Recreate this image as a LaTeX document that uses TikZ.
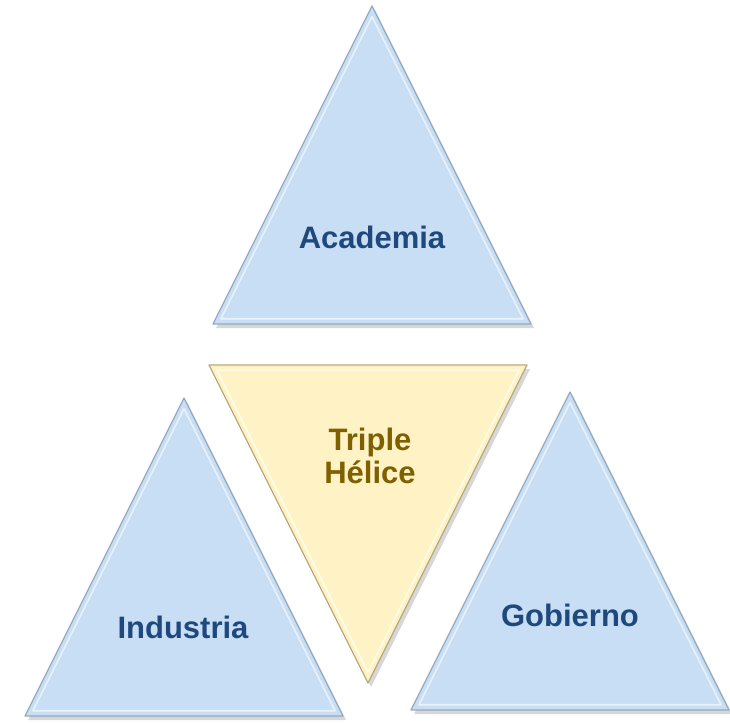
\documentclass[tikz,border=0pt]{standalone}
\usepackage{fontspec}
\setmainfont{Liberation Sans}
\definecolor{triblue}{HTML}{C8DEF5}
\definecolor{blueedge}{HTML}{93AAC0}
\definecolor{bluebevel}{HTML}{EAF3FC}
\definecolor{triyellow}{HTML}{FFF3C6}
\definecolor{yellowedge}{HTML}{B8AA80}
\definecolor{yellowbevel}{HTML}{FFFBEA}
\definecolor{bluetext}{HTML}{1F497D}
\definecolor{olivetext}{HTML}{7F6000}
\newcommand\triup{(0,-212) -- (159,106) -- (-159,106) -- cycle}
\newcommand\tridown{(0,212) -- (159,-106) -- (-159,-106) -- cycle}
\begin{document}
\begin{tikzpicture}[x=1pt,y=-1pt,thick,line join=round,
    shadowtri/.style={fill=black!45,opacity=0.35,draw=none},
    bluetri/.style={fill=triblue,draw=blueedge,line width=1.2pt},
    yellowtri/.style={fill=triyellow,draw=yellowedge,line width=1.2pt},
    bluebev/.style={draw=bluebevel,line width=1.6pt,scale=0.95},
    yellowbev/.style={draw=yellowbevel,line width=1.6pt,scale=0.95},
    lbl/.style={font=\fontsize{31}{33}\selectfont\bfseries,align=center}]
    \useasboundingbox (0,0) rectangle (730,722);

    % Academia
    \begin{scope}[shift={(372,218)}]
        \fill[shadowtri,shift={(3,4)}] \triup;
        \draw[bluetri] \triup;
        \draw[bluebev] \triup;
    \end{scope}

    % Industria
    \begin{scope}[shift={(184,610)}]
        \fill[shadowtri,shift={(3,4)}] \triup;
        \draw[bluetri] \triup;
        \draw[bluebev] \triup;
    \end{scope}

    % Gobierno
    \begin{scope}[shift={(570,604)}]
        \fill[shadowtri,shift={(3,4)}] \triup;
        \draw[bluetri] \triup;
        \draw[bluebev] \triup;
    \end{scope}

    % Triple Helice
    \begin{scope}[shift={(368,471)}]
        \fill[shadowtri,shift={(3,4)}] \tridown;
        \draw[yellowtri] \tridown;
        \draw[yellowbev] \tridown;
    \end{scope}

    \node[lbl,text=bluetext] (acad) at (372,237) {Academia};
    \node[lbl,text=bluetext] (indu) at (183,627) {Industria};
    \node[lbl,text=bluetext] (gobi) at (570,615) {Gobierno};
    \node[lbl,text=olivetext] (triple) at (370,456) {Triple\\Hélice};

\end{tikzpicture}
\end{document}
